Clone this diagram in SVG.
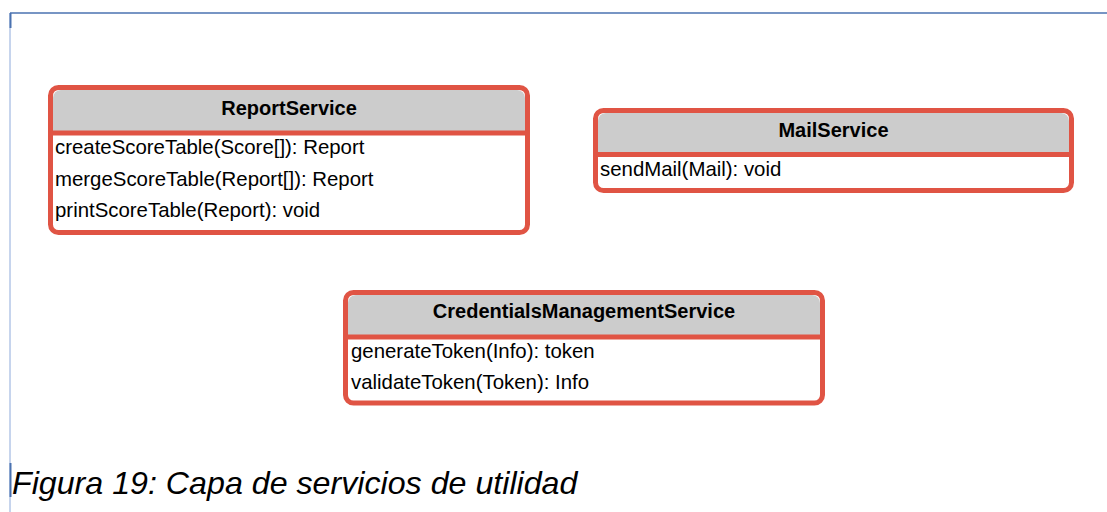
<svg xmlns="http://www.w3.org/2000/svg" width="1107" height="512" viewBox="0 0 1107 512">
<style>
.box{fill:#ffffff;stroke:#e05444;stroke-width:5}
.hdr{fill:#cccccc}
.div{stroke:#e05444;stroke-width:5}
.title{font-family:"Liberation Sans",Arial,sans-serif;font-size:20px;font-weight:bold;fill:#000;text-anchor:middle}
.row{font-family:"Liberation Sans",Arial,sans-serif;font-size:20.4px;fill:#000}
.cap{font-family:"Liberation Sans",Arial,sans-serif;font-size:32.2px;font-style:italic;fill:#000}
</style>
<rect width="1107" height="512" fill="#ffffff"/>
<g id="frame">
<line x1="10" y1="13" x2="1107" y2="13" stroke="#4a72b0" stroke-width="1.5"/>
<line x1="10" y1="13" x2="10" y2="512" stroke="#8eaadb" stroke-width="1"/>
<line x1="10.5" y1="13" x2="10.5" y2="28" stroke="#4a72b0" stroke-width="2"/>
<line x1="10.5" y1="463" x2="10.5" y2="497" stroke="#4a72b0" stroke-width="2"/>
</g>
<g id="connectors"></g>
<g id="ReportService">
<rect class="box" x="50.5" y="87.5" width="477" height="145" rx="8"/>
<path class="hdr" d="M53,98 a8,8 0 0 1 8,-8 h456 a8,8 0 0 1 8,8 v35 h-472 z"/>
<line class="div" x1="51" y1="133" x2="527" y2="133"/>
<text class="title" x="289" y="115">ReportService</text>
<text class="row" x="55" y="154">createScoreTable(Score[]): Report</text>
<text class="row" x="55" y="186">mergeScoreTable(Report[]): Report</text>
<text class="row" x="55" y="217">printScoreTable(Report): void</text>
</g>
<g id="MailService">
<rect class="box" x="595.5" y="110.5" width="476" height="80" rx="8"/>
<path class="hdr" d="M598,121 a8,8 0 0 1 8,-8 h455 a8,8 0 0 1 8,8 v33.5 h-471 z"/>
<line class="div" x1="596" y1="154.5" x2="1071" y2="154.5"/>
<text class="title" x="833.5" y="137">MailService</text>
<text class="row" x="600" y="176">sendMail(Mail): void</text>
</g>
<g id="CredentialsManagementService">
<rect class="box" x="345.5" y="292.5" width="477" height="110.5" rx="8"/>
<path class="hdr" d="M348,303 a8,8 0 0 1 8,-8 h456 a8,8 0 0 1 8,8 v34 h-472 z"/>
<line class="div" x1="346" y1="337" x2="822" y2="337"/>
<text class="title" x="584" y="318">CredentialsManagementService</text>
<text class="row" x="351" y="358">generateToken(Info): token</text>
<text class="row" x="351" y="389">validateToken(Token): Info</text>
</g>
<text class="cap" x="12" y="494">Figura 19: Capa de servicios de utilidad</text>
</svg>
